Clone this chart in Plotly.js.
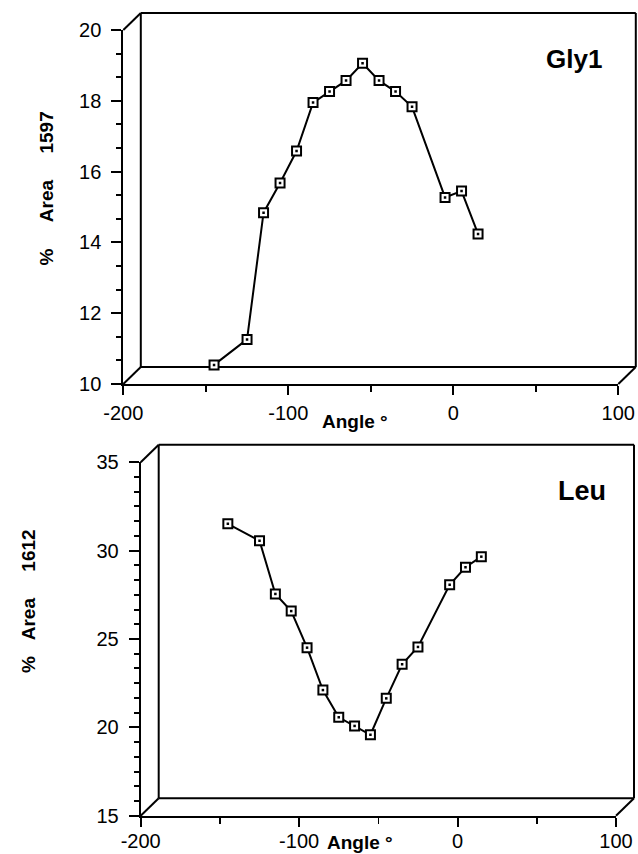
<!DOCTYPE html>
<html>
<head>
<meta charset="utf-8">
<script src="https://cdn.plot.ly/plotly-3.0.1.min.js"></script>
<style>html,body{margin:0;padding:0;background:#fff;}#chart{width:638px;height:854px;}</style>
</head>
<body>
<div id="chart"></div>
<script>
// ---- data ----
const angles = [-145, -125, -115, -105, -95, -85, -75, -65, -55, -45, -35, -25, -5, 5, 15];
const gly1Area = [10.54, 11.26, 14.84, 15.68, 16.58, 17.95, 18.26, 18.57, 19.06, 18.57, 18.26, 17.83, 15.27, 15.45, 14.24];
const leuAngles = [-145, -125, -115, -105, -95, -85, -75, -65, -55, -45, -35, -25, -5, 5, 15];
const leuArea = [31.52, 30.56, 27.55, 26.58, 24.51, 22.11, 20.57, 20.08, 19.58, 21.64, 23.57, 24.55, 28.07, 29.06, 29.66];
const xTickVals = [-200, -100, 0, 100];
const xTickText = ["-200", "-100", "0", "100"];
const panelNames = ["Gly1", "Leu"];
const yTitles = ["%\u00a0\u00a0\u00a0\u00a0\u00a0Area\u00a0\u00a0\u00a0\u00a0\u00a01597", "%\u00a0\u00a0\u00a0Area\u00a0\u00a0\u00a0\u00a0\u00a01612"];
const xTitle = "Angle \u00b0";

// ---- layout helpers ----
const W = 638, H = 854;
const px = v => v / W;
const py = v => 1 - v / H;

const topX = [px(123.3), px(618.3)], topY = [py(384), py(30)];
const botX = [px(140.7), px(616)],   botY = [py(815.7), py(462.3)];

const fontTick = {family: "Liberation Sans, Arial, sans-serif", size: 20, color: "#000"};
const bold = (s) => ({family: "Liberation Sans, Arial, sans-serif", size: s, color: "#000", weight: "bold"});

function lineTrace(x, y, xa, ya) {
  return [
    {x: x, y: y, xaxis: xa, yaxis: ya, type: "scatter", mode: "lines+markers",
     line: {color: "#000", width: 2},
     marker: {symbol: "square", size: 9, color: "#fff", line: {color: "#000", width: 2}},
     hoverinfo: "skip", showlegend: false},
    {x: x, y: y, xaxis: xa, yaxis: ya, type: "scatter", mode: "markers",
     marker: {symbol: "square", size: 2.5, color: "#000", line: {width: 0}},
     hoverinfo: "skip", showlegend: false}
  ];
}

const data = [].concat(
  lineTrace(angles, gly1Area, "x", "y"),
  lineTrace(leuAngles, leuArea, "x2", "y2")
);

function xAxis(domain, anchor, standoff) {
  return {domain: domain, anchor: anchor, range: [-200, 100],
    tickmode: "array", tickvals: xTickVals, ticktext: xTickText,
    showgrid: false, zeroline: false, showline: true, linecolor: "#000", linewidth: 2,
    ticks: "outside", ticklen: 9, tickwidth: 2, tickcolor: "#000",
    minor: {dtick: 50, tick0: -200, ticks: "outside", ticklen: 6, tickwidth: 1.5, tickcolor: "#000", showgrid: false},
    tickfont: fontTick, fixedrange: true, ticklabelstandoff: standoff};
}
function yAxis(domain, anchor, range, dtick, minorDtick) {
  return {domain: domain, anchor: anchor, range: range, dtick: dtick, tick0: range[0],
    showgrid: false, zeroline: false, showline: true, linecolor: "#000", linewidth: 2,
    ticks: "outside", ticklen: 10, tickwidth: 2, tickcolor: "#000",
    minor: {dtick: minorDtick, tick0: range[0], ticks: "outside", ticklen: 5, tickwidth: 2, tickcolor: "#000", showgrid: false},
    tickfont: fontTick, fixedrange: true, ticklabelstandoff: 6};
}

// 3D box decoration (back panel offset up-right)
function boxShapes(xd, yd, dxPx, dyPx) {
  const dx = dxPx / W, dy = dyPx / H;
  const ln = {color: "#000", width: 2};
  const s = (x0, y0, x1, y1) => ({type: "line", xref: "paper", yref: "paper", x0, y0, x1, y1, line: ln, layer: "below"});
  return [
    s(xd[0] + dx, yd[0] + dy, xd[1] + dx, yd[0] + dy),
    s(xd[0] + dx, yd[1] + dy, xd[1] + dx, yd[1] + dy),
    s(xd[0] + dx, yd[0] + dy, xd[0] + dx, yd[1] + dy),
    s(xd[1] + dx, yd[0] + dy, xd[1] + dx, yd[1] + dy),
    s(xd[0], yd[0], xd[0] + dx, yd[0] + dy),
    s(xd[0], yd[1], xd[0] + dx, yd[1] + dy),
    s(xd[1], yd[0], xd[1] + dx, yd[0] + dy)
  ];
}

const ann = (text, x, y, size, angle) => ({text: text, xref: "paper", yref: "paper",
  x: px(x), y: py(y), xanchor: "center", yanchor: "middle", showarrow: false,
  font: bold(size), textangle: angle || 0});

const layout = {
  width: W, height: H, autosize: false,
  margin: {l: 0, r: 0, t: 0, b: 0},
  paper_bgcolor: "#fff", plot_bgcolor: "rgba(0,0,0,0)",
  showlegend: false,
  xaxis: xAxis(topX, "y", 1),
  yaxis: yAxis(topY, "x", [10, 20], 2, 2 / 3),
  xaxis2: xAxis(botX, "y2", -3),
  yaxis2: yAxis(botY, "x2", [15, 35], 5, 5 / 6),
  shapes: [].concat(boxShapes(topX, topY, 17.5, 17), boxShapes(botX, botY, 18, 17.5)),
  annotations: [
    ann(panelNames[0], 574, 59, 26),
    ann(panelNames[1], 582, 491, 27),
    ann(yTitles[0], 45.5, 189, 19, -90),
    ann(yTitles[1], 28, 601, 19, -90),
    ann(xTitle, 355, 421, 19),
    ann(xTitle, 360, 842, 19)
  ]
};

Plotly.newPlot("chart", data, layout, {staticPlot: true, displayModeBar: false});
</script>
</body>
</html>
